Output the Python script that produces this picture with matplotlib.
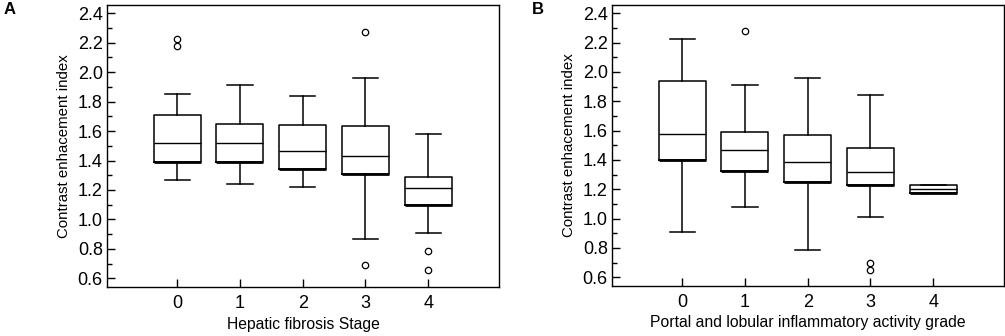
import matplotlib
matplotlib.use("Agg")
import matplotlib.pyplot as plt
from matplotlib.ticker import MultipleLocator, FormatStrFormatter
import numpy as np

plt.rcParams['font.family'] = ['Liberation Sans Narrow', 'Liberation Sans', 'DejaVu Sans']

# ---- data ----
categories = [0, 1, 2, 3, 4]

# Panel A: Hepatic fibrosis stage
a_whislo = [1.27, 1.24, 1.22, 0.87, 0.905]
a_q1     = [1.39, 1.39, 1.34, 1.305, 1.10]
a_med    = [1.517, 1.517, 1.463, 1.431, 1.211]
a_q3     = [1.707, 1.646, 1.639, 1.632, 1.29]
a_whishi = [1.85, 1.911, 1.836, 1.958, 1.578]
a_fliers = [[2.176, 2.226], [], [], [2.271, 0.69], [0.783, 0.654]]

# Panel B: Portal and lobular inflammatory activity grade
b_whislo = [0.908, 1.077, 0.788, 1.009, 1.176]
b_q1     = [1.398, 1.324, 1.249, 1.229, 1.176]
b_med    = [1.579, 1.471, 1.389, 1.321, 1.201]
b_q3     = [1.939, 1.590, 1.572, 1.484, 1.229]
b_whishi = [2.221, 1.912, 1.959, 1.844, 1.229]
b_fliers = [[], [2.276], [], [0.650, 0.700], []]

yticks = [0.6, 0.8, 1.0, 1.2, 1.4, 1.6, 1.8, 2.0, 2.2, 2.4]
xlabel_a = "Hepatic fibrosis Stage"
xlabel_b = "Portal and lobular inflammatory activity grade"
ylabel = "Contrast enhacement index"


def make_stats(lo, q1, med, q3, hi, fl):
    return [dict(whislo=lo[i], q1=q1[i], med=med[i], q3=q3[i], whishi=hi[i],
                 fliers=fl[i]) for i in range(len(lo))]


fig = plt.figure(figsize=(10.05, 3.36), dpi=100)
axA = fig.add_axes([107/1005, 1 - 287/336, 392/1005, 282/336])
axB = fig.add_axes([612/1005, 1 - 286/336, 392/1005, 281/336])

for ax, stats, q1, xlabel, letter, lx in [
        (axA, make_stats(a_whislo, a_q1, a_med, a_q3, a_whishi, a_fliers), a_q1, xlabel_a, "A", 0.004),
        (axB, make_stats(b_whislo, b_q1, b_med, b_q3, b_whishi, b_fliers), b_q1, xlabel_b, "B", 532/1005)]:
    ax.bxp(stats, positions=categories, widths=0.75, capwidths=0.4,
           boxprops=dict(color='black', linewidth=1.1),
           whiskerprops=dict(color='black', linewidth=1.1),
           capprops=dict(color='black', linewidth=1.1),
           medianprops=dict(color='black', linewidth=1.0),
           flierprops=dict(marker='o', markersize=4.6, markerfacecolor='none',
                           markeredgecolor='black', markeredgewidth=0.9))
    # emphasised lower box edge
    ax.hlines(q1, np.array(categories) - 0.375, np.array(categories) + 0.375,
              colors='black', linewidth=2.0)
    ax.set_xlim(-1.12, 5.13)
    ax.set_ylim(0.541, 2.456)
    ax.set_xticks(categories)
    ax.set_xticklabels([str(c) for c in categories])
    ax.set_yticks(yticks)
    ax.yaxis.set_minor_locator(MultipleLocator(0.1))
    ax.yaxis.set_major_formatter(FormatStrFormatter('%.1f'))
    ax.tick_params(axis='both', which='both', direction='in', labelsize=13,
                   top=False, right=False)
    ax.tick_params(axis='y', which='major', length=6, width=1, pad=3)
    ax.tick_params(axis='y', which='minor', length=3.5, width=1)
    ax.tick_params(axis='x', which='major', length=6, width=1, pad=6)
    for s in ax.spines.values():
        s.set_linewidth(1.0)
    ax.set_xlabel(xlabel, fontsize=11.3, labelpad=3)
    ax.set_ylabel(ylabel, fontsize=10.8, labelpad=5)
    fig.text(lx, 0.995, letter, fontsize=12, fontweight='bold', ha='left', va='top',
             family=['Liberation Sans', 'DejaVu Sans'])

fig.savefig("out.png", dpi=100)
